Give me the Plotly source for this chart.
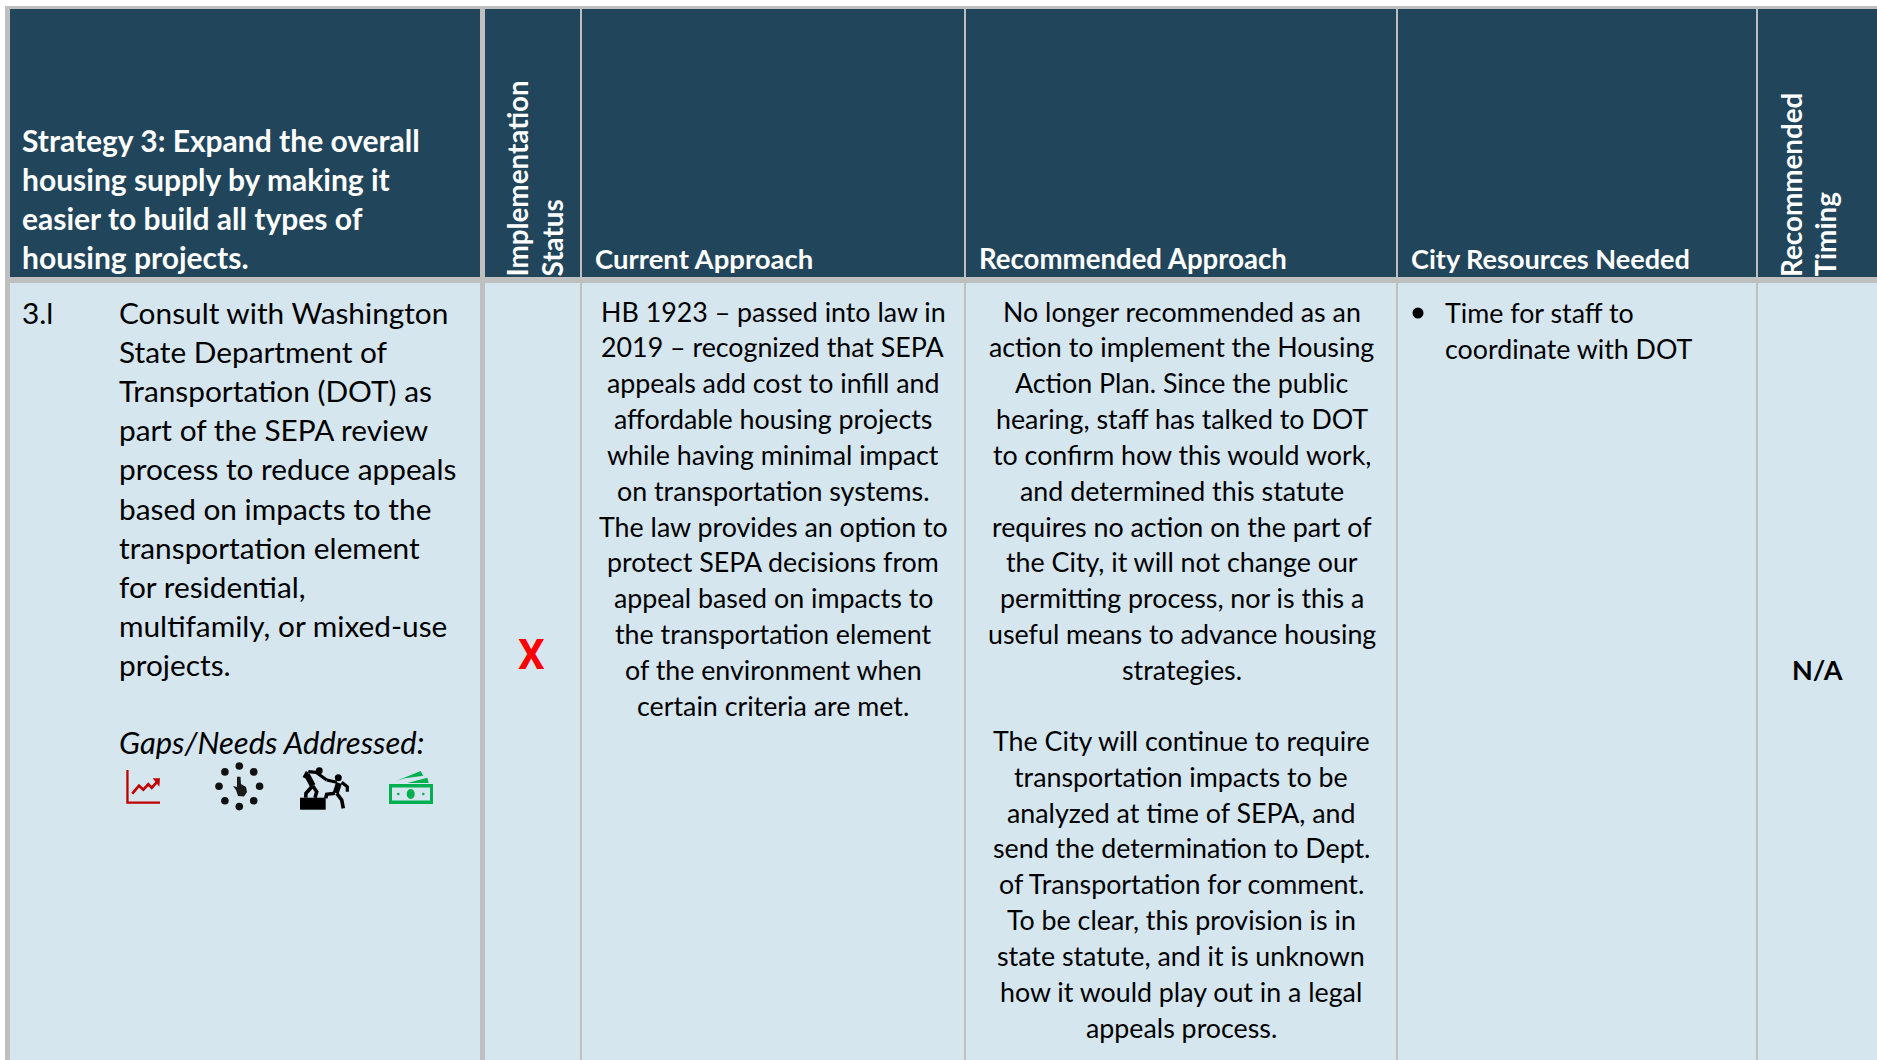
import plotly.graph_objects as go

STRATEGY_HEADER = ["Strategy 3: Expand the overall", "housing supply by making it", "easier to build all types of", "housing projects."]
STATUS_HEADER = ["Implementation", "Status"]
TIMING_HEADER = ["Recommended", "Timing"]
COLUMN_HEADERS = ["Current Approach", "Recommended Approach", "City Resources Needed"]
ITEM_ID = "3.l"
ITEM_LINES = ["Consult with Washington", "State Department of", "Transportation (DOT) as", "part of the SEPA review",
              "process to reduce appeals", "based on impacts to the", "transportation element", "for residential,",
              "multifamily, or mixed-use", "projects."]
GAPS_LABEL = "Gaps/Needs Addressed:"
STATUS_VALUE = "X"
CURRENT_LINES = ["HB 1923 – passed into law in", "2019 – recognized that SEPA", "appeals add cost to infill and",
                 "affordable housing projects", "while having minimal impact", "on transportation systems.",
                 "The law provides an option to", "protect SEPA decisions from", "appeal based on impacts to",
                 "the transportation element", "of the environment when", "certain criteria are met."]
RECOMMENDED_LINES_1 = ["No longer recommended as an", "action to implement the Housing", "Action Plan. Since the public",
                       "hearing, staff has talked to DOT", "to confirm how this would work,", "and determined this statute",
                       "requires no action on the part of", "the City, it will not change our", "permitting process, nor is this a",
                       "useful means to advance housing", "strategies."]
RECOMMENDED_LINES_2 = ["The City will continue to require", "transportation impacts to be", "analyzed at time of SEPA, and",
                       "send the determination to Dept.", "of Transportation for comment.", "To be clear, this provision is in",
                       "state statute, and it is unknown", "how it would play out in a legal", "appeals process."]
RESOURCE_LINES = ["Time for staff to", "coordinate with DOT"]
TIMING_VALUE = "N/A"

W, H = 1877, 1060
FONT = "Lato"
DARK, LIGHT, GRAY = "#21455B", "#D5E6EF", "#BFBFBF"
BODY = 29.8
SMALL = 26.8
HEAD = 27.5
STRAT = 30

shapes, notes = [], []

def rect(x0, y0, x1, y1, c):
    shapes.append(dict(type="rect", x0=x0, y0=y0, x1=x1, y1=y1, fillcolor=c, line_width=0, layer="below"))

def path(d, fill=None, line=None, lw=0):
    shapes.append(dict(type="path", path=d, fillcolor=fill or "rgba(0,0,0,0)",
                       line=dict(color=line or "rgba(0,0,0,0)", width=lw), layer="above"))

def circle(cx, cy, r, c):
    shapes.append(dict(type="circle", x0=cx-r, y0=cy-r, x1=cx+r, y1=cy+r, fillcolor=c, line_width=0, layer="above"))

def text(x, y, s, size=BODY, color="black", xa="left", bold=False, italic=False, angle=0, ya="middle", family=FONT):
    if bold: s = f"<b>{s}</b>"
    if italic: s = f"<i>{s}</i>"
    notes.append(dict(x=x, y=y, text=s, xref="x", yref="y", showarrow=False, xanchor=xa, yanchor=ya,
                      textangle=angle, borderpad=0, borderwidth=0,
                      font=dict(family=family, size=size, color=color)))

# table background and rules
rect(0, 0, W, H, "white")
rect(5, 6, W, H, GRAY)
rect(10, 9, W, 277, DARK)
rect(10, 283, W, H, LIGHT)
rect(480, 9, 485, H, GRAY)
for cx in (581, 965, 1397, 1757):
    rect(cx - 1, 9, cx + 1, H, GRAY)
rect(10, 277, W, 283, GRAY)

# header text
for i, s in enumerate(STRATEGY_HEADER):
    text(22, 140 + i * 39, s, STRAT, "white", bold=True)
for s, x, size in zip(COLUMN_HEADERS, (595, 979, 1411), (HEAD, HEAD + 0.1, HEAD - 0.4)):
    text(x, 258, s, size, "white", bold=True)
for s, x in zip(STATUS_HEADER, (516.5, 552)):
    text(x, 277, s, HEAD + 0.3, "white", xa="center", bold=True, angle=-90, ya="bottom")
for s, x in zip(TIMING_HEADER, (1791, 1825)):
    text(x, 277, s, HEAD + 0.3, "white", xa="center", bold=True, angle=-90, ya="bottom")

# body text
text(22, 312.5, ITEM_ID, BODY)
for i, s in enumerate(ITEM_LINES):
    text(118.5, 312.5 + i * 39.1, s)
text(118.5, 742, GAPS_LABEL, 31, italic=True)
text(531, 654, STATUS_VALUE, 42, "#FF0000", xa="center", bold=True, family="Roboto")
for i, s in enumerate(CURRENT_LINES):
    text(773, 311.5 + i * 35.85, s, SMALL, xa="center")
for i, s in enumerate(RECOMMENDED_LINES_1):
    text(1181.5, 311.5 + i * 35.85, s, SMALL, xa="center")
for i, s in enumerate(RECOMMENDED_LINES_2):
    text(1181, 740.8 + i * 35.85, s, SMALL, xa="center")
circle(1418, 313, 5.5, "black")
for i, s in enumerate(RESOURCE_LINES):
    text(1445, 312.5 + i * 36.5, s, SMALL)
text(1817, 669, TIMING_VALUE, 27, xa="center", bold=True)

# icons: rising chart
RED = "#C00000"
path("M126.3,770 L128.6,770 L128.6,801.4 L160,801.4 L160,803.7 L126.3,803.7 Z", RED)
path("M132.3,793.7 L139,785.7 L143.3,789.7 L148.3,784.3 L151.7,787.7 L156.7,782.3", None, RED, 2.7)
path("M152.7,778.3 L160,778.3 L159.3,786.7 Z", RED)
# icons: clock of dots with hand
for dx, dy in ((0, -20.3), (14.4, -14.4), (20.3, 0), (14.4, 14.4), (0, 20.3), (-14.4, 14.4), (-20.3, 0), (-14.4, -14.4)):
    circle(239.3 + dx, 786.3 + dy, 3.8, "#111111")
path("M237,776.7 L240.5,776.7 L241,784 L246,787 L247,792 L244,796.5 L238,796 L236,790 L233,786 L237,787 Z", "#1a1a1a")

# icons: two people
def crop(*pts):
    return "M" + " L".join(f"{290 + x / 3:.1f},{755 + y / 3:.1f}" for x, y in pts)

path("M300,797.7 L325.7,797.7 L325.7,809.7 L300,809.7 Z", "black")
circle(319.3, 770.7, 3.4, "black")
circle(338.3, 777.7, 3.5, "black")
path(crop((50, 58), (68, 92)), None, "black", 6)
path(crop((68, 92), (48, 115), (47, 128)), None, "black", 3.6)
path(crop((68, 92), (80, 110), (75, 128)), None, "black", 3.6)
path(crop((55, 50), (78, 52), (110, 75)), None, "black", 3.2)
path(crop((52, 50), (42, 68)), None, "black", 3.2)
path(crop((147, 84), (137, 114)), None, "black", 6)
path(crop((140, 82), (110, 75)), None, "black", 3.2)
path(crop((155, 82), (172, 95), (172, 110)), None, "black", 3.2)
path(crop((135, 115), (110, 118), (107, 130)), None, "black", 3.6)
path(crop((140, 115), (155, 135), (160, 160)), None, "black", 3.6)

# icons: bank notes
GRN = "#00B050"
path("M389,784 L433,784 L433,804 L389,804 Z M392,787.5 L392,800.5 L430,800.5 L430,787.5 Z", GRN)
shapes[-1]["fillrule"] = "evenodd"
shapes.append(dict(type="circle", x0=406.7, y0=789, x1=414.7, y1=799, fillcolor=GRN, line_width=0, layer="above"))
circle(398.3, 794, 1.3, GRN)
circle(423.3, 794, 1.3, GRN)
path(crop((320, 77), (392, 48), (400, 62), (345, 70)) + " Z", GRN)
path(crop((352, 84), (412, 68), (416, 84)) + " Z", GRN)

fig = go.Figure()
fig.update_layout(width=W, height=H, margin=dict(l=0, r=0, t=0, b=0), paper_bgcolor="white", plot_bgcolor="white",
                  xaxis=dict(range=[0, W], visible=False, fixedrange=True),
                  yaxis=dict(range=[H, 0], visible=False, fixedrange=True),
                  shapes=shapes, annotations=notes, showlegend=False)
fig.write_html("out.html", config=dict(displayModeBar=False),
               post_script="document.body.style.margin='0';document.body.style.overflow='hidden';")
